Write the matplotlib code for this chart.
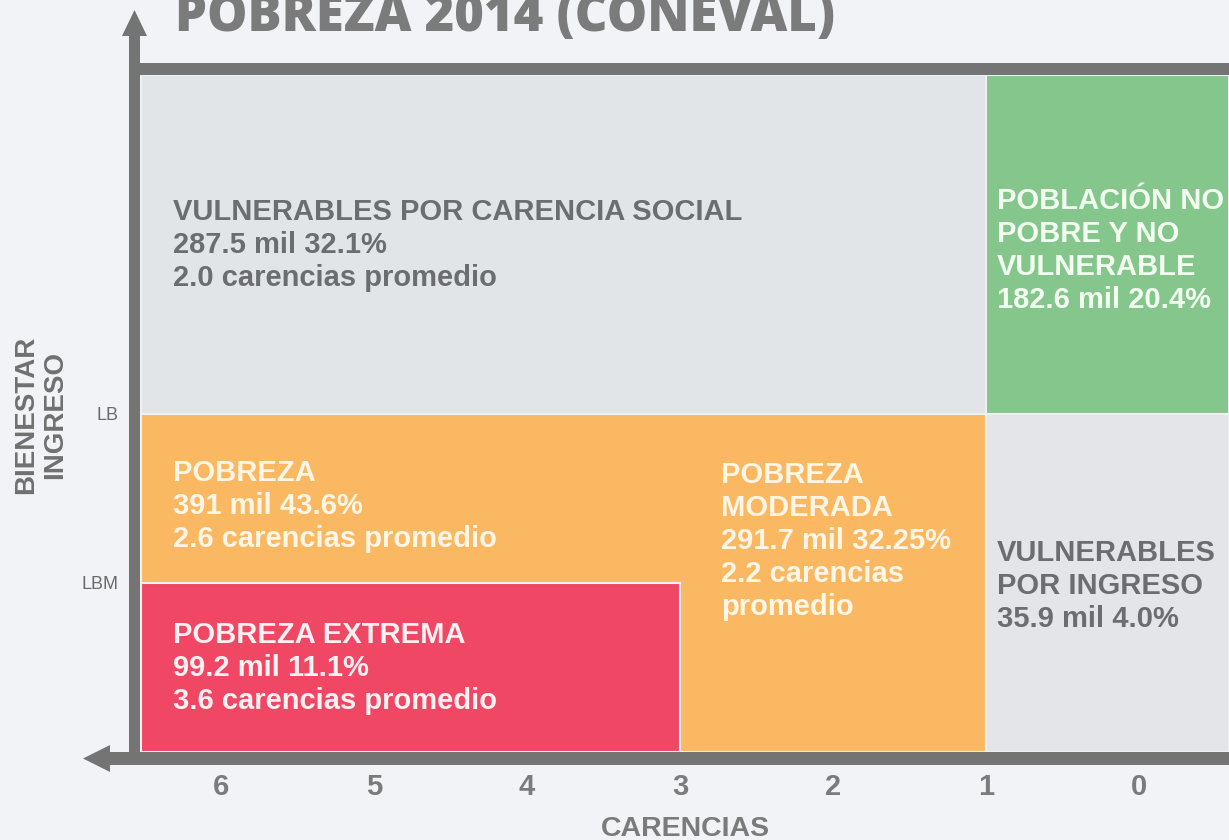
import matplotlib
matplotlib.use('Agg')
import matplotlib.pyplot as plt
from matplotlib.patches import Rectangle, Polygon

# --- datos ---
carencias_ticks = [6, 5, 4, 3, 2, 1, 0]
ingreso_ticks = [1, 2]
ingreso_labels = ['LBM', 'LB']

C_MAX, C_MIN = 6.523, -0.588   # limites del eje de carencias (invertido)
Y_MAX = 4.0

zonas = ['vuln_carencia', 'no_pobre', 'pobreza', 'vuln_ingreso', 'extrema']
zona_c = [(C_MAX, 1), (1, C_MIN), (C_MAX, 1), (1, C_MIN), (C_MAX, 3)]
zona_y = [(2, Y_MAX), (2, Y_MAX), (0, 2), (0, 2), (0, 1)]
zona_color = ['#e2e5e8', '#84c68b', '#fbb862', '#e3e5e8', '#f04765']

textos = [
    'VULNERABLES POR CARENCIA SOCIAL\n287.5 mil 32.1%\n2.0 carencias promedio',
    'POBLACIÓN NO\nPOBRE Y NO\nVULNERABLE\n182.6 mil 20.4%',
    'POBREZA\n391 mil 43.6%\n2.6 carencias promedio',
    'VULNERABLES\nPOR INGRESO\n35.9 mil 4.0%',
    'POBREZA EXTREMA\n99.2 mil 11.1%\n3.6 carencias promedio',
    'POBREZA\nMODERADA\n291.7 mil 32.25%\n2.2 carencias\npromedio',
]
# posicion de la linea base de la ultima linea de cada texto
texto_pos = [(6.314, 2.753), (0.928, 2.623), (6.314, 1.211),
             (0.928, 0.739), (6.314, 0.254), (2.732, 0.809)]
texto_color = ['#6b6d70', '#f3fff0', '#fff6e6', '#6b6d70', '#fff0f2', '#fff6e6']

BG = '#f2f3f7'
GRIS = '#747474'
FAM = ['Liberation Sans', 'DejaVu Sans']

W, H = 1229, 840
fig = plt.figure(figsize=(W / 100, H / 100), dpi=100, facecolor=BG)
ax = fig.add_axes([141 / W, 1 - 752 / H, 1088 / W, 677 / H])
ax.set_facecolor(BG)
ax.set_xlim(C_MAX, C_MIN)
ax.set_ylim(0, Y_MAX)

for (c0, c1), (y0, y1), col in zip(zona_c, zona_y, zona_color):
    ax.add_patch(Rectangle((c1, y0), c0 - c1, y1 - y0, facecolor=col,
                           edgecolor='#eef0f2', linewidth=1.5))

for t, (x, y), col in zip(textos, texto_pos, texto_color):
    ax.text(x, y, t, ha='left', va='baseline', color=col, fontsize=21,
            fontweight='bold', family=FAM, linespacing=1.23)

for s in ax.spines.values():
    s.set_visible(False)

ax.set_xticks(carencias_ticks)
ax.set_xticklabels([str(c) for c in carencias_ticks])
ax.set_yticks(ingreso_ticks)
ax.set_yticklabels(ingreso_labels)
ax.tick_params(axis='x', length=0, pad=15, labelsize=21, labelcolor='#7b7b7b')
ax.tick_params(axis='y', length=0, pad=16, labelsize=13, labelcolor='#6a6a6a')
for lab in ax.get_xticklabels():
    lab.set_family(FAM)
    lab.set_fontweight('bold')
for lab in ax.get_yticklabels():
    lab.set_family(FAM)

# ejes dibujados como flechas (en pixeles de figura)
def fx(p):
    return p / W

def fy(p):
    return 1 - p / H

T = fig.transFigure
fig.patches.append(Rectangle((fx(129), fy(765)), fx(11), (765 - 33) / H,
                             transform=T, facecolor=GRIS, edgecolor='none'))
fig.patches.append(Polygon([(fx(134.5), fy(10)), (fx(122), fy(36)), (fx(147), fy(36))],
                           closed=True, transform=T, facecolor=GRIS, edgecolor='none'))
fig.patches.append(Rectangle((fx(108), fy(765)), fx(W - 108), 13 / H,
                             transform=T, facecolor=GRIS, edgecolor='none'))
fig.patches.append(Polygon([(fx(83), fy(758.5)), (fx(110), fy(745)), (fx(110), fy(772))],
                           closed=True, transform=T, facecolor=GRIS, edgecolor='none'))
fig.patches.append(Rectangle((fx(140), fy(75)), fx(W - 140), 12 / H,
                             transform=T, facecolor=GRIS, edgecolor='none'))

fig.text(fx(175), fy(31), 'POBREZA 2014 (CONEVAL)', ha='left', va='baseline',
         fontsize=36.5, fontweight='heavy', color='#7b7b7b',
         family=['Open Sans', 'Roboto', 'DejaVu Sans'])
fig.text(fx(41), fy(415), 'BIENESTAR\nINGRESO', rotation=90, ha='center',
         va='center', multialignment='center', fontsize=20, fontweight='bold',
         color='#707070', family=FAM, linespacing=1.15)
fig.text(fx(685), fy(836), 'CARENCIAS', ha='center', va='baseline',
         fontsize=20.5, fontweight='bold', color='#7b7b7b', family=FAM)

fig.savefig('out.png', dpi=100, facecolor=BG)
